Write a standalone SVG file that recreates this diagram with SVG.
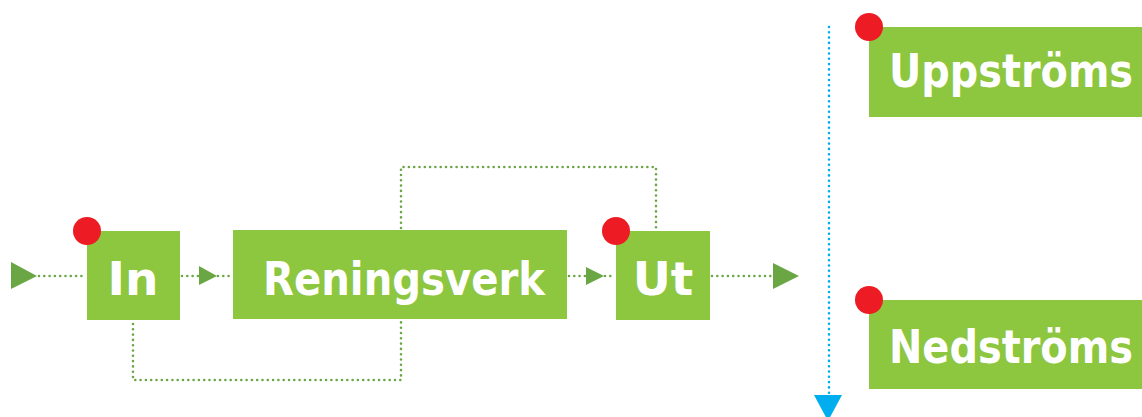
<svg xmlns="http://www.w3.org/2000/svg" width="1142" height="417" viewBox="0 0 1142 417">
<style>
.box{fill:#8dc63f}
.dot{fill:#ed1c24}
.lbl{font-family:"DejaVu Sans","Liberation Sans",sans-serif;font-weight:bold;font-size:47px;fill:#ffffff}
.gl{fill:none;stroke:#6aa744;stroke-width:2.6;stroke-linecap:round;stroke-dasharray:0 5.3}
.bl{fill:none;stroke:#00aeef;stroke-width:2.6;stroke-linecap:round;stroke-dasharray:0 5.3}
.ga{fill:#6aa744}
.ba{fill:#00aeef}
</style>
<rect width="1142" height="417" fill="#ffffff"/>
<g id="connectors">
<path class="gl" d="M39 276 H85"/>
<path class="gl" d="M182 276 H199"/>
<path class="gl" d="M218 276 H232"/>
<path class="gl" d="M569 276 H586"/>
<path class="gl" d="M605 276 H614"/>
<path class="gl" d="M712 276 H773"/>
<path class="gl" d="M133 324 V380 H401 V322"/>
<path class="gl" d="M401 228 V167 H656 V229"/>
<path class="bl" d="M829 27 V393"/>
<polygon class="ga" points="11,262 37,276 11,289"/>
<polygon class="ga" points="199,266 217,276 199,285"/>
<polygon class="ga" points="586,267 604,276 586,285"/>
<polygon class="ga" points="773,263 799,276 773,289"/>
<polygon class="ba" points="814,395 842,395 828,421"/>
</g>
<g id="in">
<rect class="box" x="87" y="231" width="93" height="89"/>
<circle class="dot" cx="87" cy="231" r="14"/>
<text class="lbl" x="133" y="295" text-anchor="middle">In</text>
</g>
<g id="reningsverk">
<rect class="box" x="233" y="230" width="334" height="89"/>
<text class="lbl" x="263" y="295" textLength="282" lengthAdjust="spacingAndGlyphs">Reningsverk</text>
</g>
<g id="ut">
<rect class="box" x="616" y="231" width="94" height="89"/>
<circle class="dot" cx="616" cy="231" r="14"/>
<text class="lbl" x="663" y="295" text-anchor="middle">Ut</text>
</g>
<g id="uppstroms">
<rect class="box" x="869" y="27" width="273" height="90"/>
<circle class="dot" cx="869" cy="27" r="14"/>
<text class="lbl" x="889" y="87" textLength="244" lengthAdjust="spacingAndGlyphs">Uppströms</text>
</g>
<g id="nedstroms">
<rect class="box" x="869" y="300" width="273" height="89"/>
<circle class="dot" cx="869" cy="300" r="14"/>
<text class="lbl" x="889" y="363" textLength="244" lengthAdjust="spacingAndGlyphs">Nedströms</text>
</g>
</svg>
